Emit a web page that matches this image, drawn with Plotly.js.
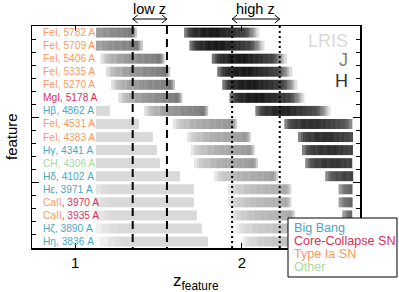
<!DOCTYPE html>
<html>
<head>
<meta charset="utf-8">
<script src="https://cdn.plot.ly/plotly-3.0.1.min.js"></script>
<style>html,body{margin:0;padding:0;background:#fff;}#chart{width:399px;height:292px;}</style>
</head>
<body>
<div id="chart"></div>
<script>
// ---------------- data ----------------
const featureNames = ['FeI','FeI','FeI','FeI','FeI','MgI','Hβ','FeI','FeI','Hγ','CH','Hδ','Hε','CaII','CaII','Hζ','Hη'];
const restWave     = [5782,5709,5406,5335,5270,5178,4862,4531,4383,4341,4306,4102,3971,3970,3935,3890,3836];
const nameOrigin   = ['Ia','Ia','Ia','Ia','Ia','CC','BB','Ia','Ia','BB','Other','BB','BB','Ia','Ia','BB','BB'];
const waveOrigin   = ['Ia','Ia','Ia','Ia','Ia','CC','BB','Ia','Ia','BB','Other','BB','BB','CC','CC','BB','BB'];

const originKeys   = ['BB','CC','Ia','Other'];
const originLabels = ['Big Bang','Core-Collapse SN','Type Ia SN','Other'];
const originColors = {BB:'#4ba6c2', CC:'#d8305a', Ia:'#fb9a5e', Other:'#a6dba0'};

// instrument coverage (observed wavelength, Angstrom) and relative shading
const instNames  = ['LRIS','J','H'];
const instColors = ['#d9d9d9','#808080','#333333'];

const lrisEdges = [8000,8150,8300,8450,8600,10590];
const lrisShade = [0.15,0.45,0.7,0.9,1.0];

const jEdges = [11500,11575,11650,11725,11800,11875,11950,12025,12100,12175,12250,12325,12400,12475,12550,12625,12700,12775,12850,12925,13000,13075,13150,13225,13300,13375,13450];
const jShade = [0.25,0.38,0.48,0.55,0.62,0.58,0.68,0.72,0.68,0.78,0.75,0.8,0.84,0.79,0.86,0.88,0.84,0.9,0.92,0.87,0.95,0.92,0.98,1.0,0.82,0.45];

const hEdges = [15075,15175,15275,15375,15475,15575,15675,15775,15875,15975,16075,16175,16275,16375,16475,16575,16675,16775,16875,16975,17075,17175,17275,17375,17475,17575,17675,17775,17875,17975,18075];
const hShade = [0.6,0.75,0.85,0.9,0.94,0.9,0.97,1.0,0.95,0.98,1.0,0.96,1.0,0.97,0.93,0.96,0.9,0.93,0.88,0.9,0.84,0.86,0.8,0.82,0.75,0.7,0.55,0.45,0.3,0.15];

const lrisWeight = [0.15,0.15,0.15,0.15,0.15,0.15,0.15,0.15,0.15,0.15,0.15,0.15,0.15,0.15,0.15,0.15,0.15];
const jWeight    = [0.52,0.52,0.52,0.52,0.52,0.52,0.52,0.42,0.4,0.4,0.4,0.38,0.33,0.33,0.33,0.27,0.27];
const hWeight    = [0.9,0.9,0.9,0.9,0.9,0.9,0.86,0.82,0.82,0.82,0.8,0.75,0.65,0.65,0.65,0.6,0.6];

// plotted redshift window of the bars, and the low/high z selections
const barZRange = [1.103, 2.93];
const lowZ  = [1.3, 1.5];
const highZ = [1.93, 2.29];
const xRangeZ = [0.8, 3.0];

// ---------------- build ----------------
const traces = [];
const lo = 1 + barZRange[0], hi = 1 + barZRange[1];
function addSegment(edges, shade, rest, weight, row){
  const xs = [], zs = [];
  for (let k = 0; k < shade.length; k++){
    let a = edges[k] / rest, b = edges[k+1] / rest;
    if (b <= lo || a >= hi) continue;
    a = Math.max(a, lo); b = Math.min(b, hi);
    if (!xs.length) xs.push(a);
    xs.push(b); zs.push(shade[k] * weight);
  }
  if (!zs.length) return;
  traces.push({type:'heatmap', x: xs, y:[row-0.38, row+0.38], z:[zs],
    zmin:0, zmax:1, colorscale:[[0,'#ffffff'],[1,'#000000']], showscale:false, hoverinfo:'skip'});
}
restWave.forEach((w, i) => {
  addSegment(lrisEdges, lrisShade, w, lrisWeight[i], i);
  addSegment(jEdges, jShade, w, jWeight[i], i);
  addSegment(hEdges, hShade, w, hWeight[i], i);
});
const nRows = restWave.length;
lowZ.forEach(z => traces.push({type:'scatter', mode:'lines', x:[1+z,1+z], y:[-0.5, nRows-0.5],
  line:{color:'#000', width:2, dash:'8px,5px'}, hoverinfo:'skip'}));
highZ.forEach(z => traces.push({type:'scatter', mode:'lines', x:[1+z,1+z], y:[-0.5, nRows-0.5],
  line:{color:'#000', width:2, dash:'2px,3px'}, hoverinfo:'skip'}));

const L = v => Math.log10(v);
const annotations = [];
const shapes = [];
// row labels
restWave.forEach((w, i) => {
  annotations.push({xref:'paper', yref:'y', x:0.027, y:i, xanchor:'left', yanchor:'middle', showarrow:false,
    text:`<span style="color:${originColors[nameOrigin[i]]}">${featureNames[i]}</span><span style="color:${originColors[waveOrigin[i]]}">, ${w} A</span>`,
    font:{size:10.2}});
});
// instrument names
const instY = [0.9324, 0.8468, 0.7523];
instNames.forEach((n, k) => annotations.push({xref:'paper', yref:'paper', x:0.9695, y:instY[k], xanchor:'right', yanchor:'middle',
  showarrow:false, text:n, font:{size:18, color:instColors[k]}}));
// low/high z double arrows (shapes) + text
const arrowY = 1.0315;
[[lowZ,'low z'],[highZ,'high z']].forEach(([r, t]) => {
  shapes.push({type:'line', xref:'x', yref:'paper', x0:1+r[0], x1:1+r[1], y0:arrowY, y1:arrowY,
    line:{color:'#000', width:1}});
  shapes.push({type:'path', xref:'x', yref:'paper', xsizemode:'pixel', ysizemode:'pixel',
    xanchor:1+r[0], yanchor:arrowY, path:'M5,4L0,0L5,-4', line:{color:'#000', width:1}});
  shapes.push({type:'path', xref:'x', yref:'paper', xsizemode:'pixel', ysizemode:'pixel',
    xanchor:1+r[1], yanchor:arrowY, path:'M-5,4L0,0L-5,-4', line:{color:'#000', width:1}});
  annotations.push({xref:'x', yref:'paper', x:(L(1+r[0])+L(1+r[1]))/2, y:1.0788, xanchor:'center', yanchor:'middle',
    showarrow:false, text:t, font:{size:14.5, color:'#000'}, borderpad:0});
});
// axis titles
annotations.push({xref:'paper', yref:'paper', x:0.5, y:-0.153, xanchor:'center', yanchor:'middle', showarrow:false,
  text:'z<sub>feature</sub>', font:{size:17, color:'#000'}, borderpad:0});
annotations.push({xref:'paper', yref:'paper', x:-0.064, y:0.5, xanchor:'center', yanchor:'middle', showarrow:false,
  text:'feature', textangle:-90, font:{size:15, color:'#000'}, borderpad:0});
// legend
const legY = [0.0901, 0.0315, -0.027, -0.0856];
shapes.push({type:'rect', xref:'paper', yref:'paper', x0:0.7805, x1:1.1128, y0:-0.1306, y1:0.1351,
  line:{color:'#000', width:1}, fillcolor:'#fff', layer:'above'});
originKeys.forEach((k, j) => annotations.push({xref:'paper', yref:'paper', x:0.7927, y:legY[j], xanchor:'left', yanchor:'middle',
  showarrow:false, text:originLabels[j], font:{size:12.6, color:originColors[k]}}));

const boundaries = [];
for (let i = 0; i < nRows-1; i++) boundaries.push(i+0.5);
const groupBounds = [6.5, 11.5];

const layout = {
  width:399, height:292,
  margin:{l:32, r:39, t:26, b:44},
  paper_bgcolor:'#fff', plot_bgcolor:'#fff',
  showlegend:false,
  font:{family:'Arial, Liberation Sans, sans-serif', color:'#000'},
  xaxis:{type:'log', range:[L(1+xRangeZ[0]), L(1+xRangeZ[1])], tickmode:'array', tickvals:[2,3], ticktext:['1','2'],
    ticks:'inside', ticklen:5, tickcolor:'#000', mirror:'ticks', showline:true, linecolor:'#000', linewidth:1.5,
    showgrid:false, zeroline:false, tickfont:{size:15}},
  yaxis:{range:[nRows-0.5, -0.5], tickmode:'array', tickvals:groupBounds, showticklabels:false,
    ticks:'inside', ticklen:7, tickcolor:'#000', mirror:'ticks', showline:true, linecolor:'#000', linewidth:1.5,
    showgrid:false, zeroline:false,
    minor:{tickmode:'array', tickvals:boundaries.filter(b => !groupBounds.includes(b)), ticks:'inside', ticklen:4, tickcolor:'#000'}},
  annotations: annotations,
  shapes: shapes
};
Plotly.newPlot('chart', traces, layout, {displayModeBar:false, staticPlot:true});
</script>
</body>
</html>
